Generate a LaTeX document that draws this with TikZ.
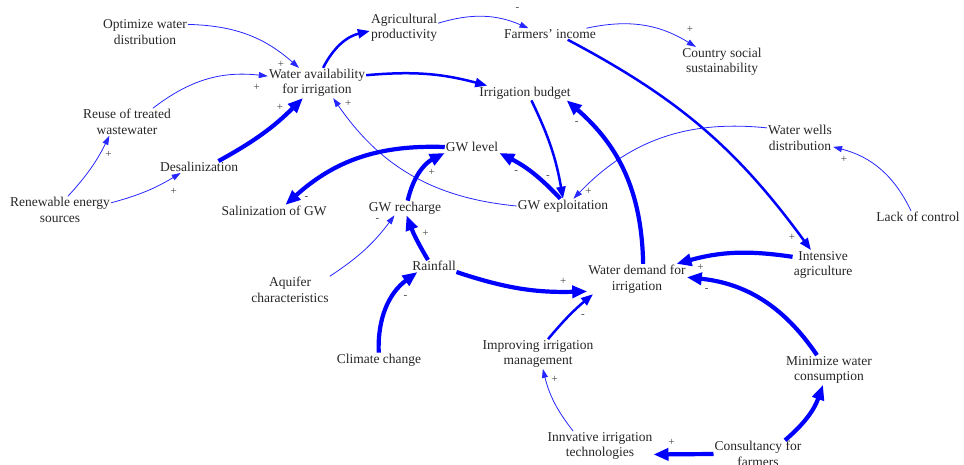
\documentclass[tikz,border=0pt]{standalone}
\usepackage{fontspec}
\setmainfont{Liberation Serif}
\usepackage{tikz}
\usetikzlibrary{arrows.meta}

\begin{document}
\begin{tikzpicture}[x=1pt,y=1pt,
    var/.style={align=center,inner sep=1pt,text=black!85,font=\fontsize{13.5}{15.5}\selectfont},
    sign/.style={pos=1,inner sep=0pt,text=black!75,font=\fontsize{11}{11}\selectfont},
    thin link/.style={draw=blue!85!white,line width=0.8pt,-{Triangle[length=9pt,width=6pt]}},
    mid link/.style={draw=blue,line width=2.5pt,-{Triangle[length=12pt,width=9pt]}},
    thick link/.style={draw=blue,line width=4.2pt,-{Triangle[length=15pt,width=12pt]}}]

  \useasboundingbox (0,0) rectangle (964,-465);

  \node[var] (opt) at (145,-32) {Optimize water\\distribution};
  \node[var] (wa) at (317,-83) {Water availability\\for irrigation};
  \node[var] (agri) at (404,-28) {Agricultural\\productivity};
  \node[var] (inc) at (550,-34) {Farmers' income};
  \node[var] (soc) at (722,-62) {Country social\\sustainability};
  \node[var] (reuse) at (127,-122) {Reuse of treated\\wastewater};
  \node[var] (bud) at (525,-93) {Irrigation budget};
  \node[var] (desal) at (199,-167) {Desalinization};
  \node[var] (wells) at (800,-138) {Water wells\\distribution};
  \node[var] (ren) at (60,-210) {Renewable energy\\sources};
  \node[var] (sal) at (274,-211) {Salinization of GW};
  \node[var] (gwl) at (472,-147) {GW level};
  \node[var] (rech) at (405,-208) {GW recharge};
  \node[var] (expl) at (563,-206) {GW exploitation};
  \node[var] (lack) at (918,-217) {Lack of control};
  \node[var] (intens) at (823,-265) {Intensive\\agriculture};
  \node[var] (aqf) at (290,-290) {Aquifer\\characteristics};
  \node[var] (rain) at (434,-266) {Rainfall};
  \node[var] (dem) at (637,-279) {Water demand for\\irrigation};
  \node[var] (clim) at (379,-360) {Climate change};
  \node[var] (impr) at (538,-354) {Improving irrigation\\management};
  \node[var] (min) at (829,-370) {Minimize water\\consumption};
  \node[var] (innov) at (600,-446) {Innvative irrigation\\technologies};
  \node[var] (cons) at (758,-454) {Consultancy for\\farmers};

  \path
        (opt.10) edge[thin link,bend left=20] node[sign,shift={(-18,4)}] {+} (wa.140)
        (reuse.28) edge[thin link,bend left=22] node[sign,shift={(-11,-11)}] {+} (wa.172)
        (desal.17) edge[thick link,bend right=8] node[sign,shift={(-23,-9)}] {+} (wa.-133)
        (ren.60) edge[thin link,bend right=8] node[sign,shift={(-1,-19)}] {+} (reuse.-142)
        (ren.8) edge[thin link,bend right=8] node[sign,shift={(-7,-18)}] {+} (desal.-162)
        (wa.68) edge[mid link,bend left=25] (agri.185)
        (wa.9) edge[mid link,bend left=10] (bud.169)
        (agri.8) edge[thin link,bend left=20] node[sign,shift={(-11,19)}] {-} (inc.165)
        (inc.9) edge[thin link,bend left=22] node[sign,shift={(-6,18)}] {+} (soc.150)
        (inc.-18) edge[mid link,bend left=13] node[sign,shift={(-19,13)}] {+} (intens.129)
        (bud.-49) edge[mid link,bend left=8] node[sign,shift={(-15,22)}] {-} (expl.90)
        (expl.180) edge[thin link,bend left=25] node[sign,shift={(15,-5)}] {+} (wa.-43)
        (expl.110) edge[thick link,bend right=10] node[sign,shift={(17,-19)}] {-} (gwl.south east)
        (gwl.180) edge[thick link,bend right=22] node[sign,shift={(21,7)}] {-} (sal.28)
        (rech.70) edge[thick link,bend left=25] node[sign,shift={(-13,-19)}] {+} (gwl.south west)
        (wells.163) edge[thin link,bend right=26] node[sign,shift={(15,7)}] {+} (expl.35)
        (lack.139) edge[thin link,bend right=25] node[sign,shift={(11,-13)}] {+} (wells.-15)
        (dem.68) edge[thick link,bend right=24] node[sign,shift={(10,-23)}] {-} (bud.-10)
        (intens.165) edge[thick link,bend right=12] node[sign,shift={(24,-4)}] {+} (dem.21)
        (min.129) edge[thick link,bend right=25] node[sign,shift={(20,-13)}] {-} (dem.2)
        (rain.135) edge[thick link,bend left=5] node[sign,shift={(19,-18)}] {+} (rech.-78)
        (aqf.north east) edge[thin link,bend right=10] node[sign,shift={(-17,-5)}] {-} (rech.-145)
        (rain.-15) edge[thick link,bend right=10] node[sign,shift={(-24,10)}] {+} (dem.-166)
        (clim.92) edge[thick link,bend left=28] node[sign,shift={(-12,-25)}] {-} (rain.-160)
        (impr.56) edge[mid link,bend left=5] node[sign,shift={(-10,-22)}] {-} (dem.-161)
        (innov.151) edge[thin link,bend left=12] node[sign,shift={(12,-11)}] {+} (impr.-72)
        (cons.180) edge[thick link] node[sign,shift={(18,12)}] {+} (innov.-9)
        (cons.27) edge[thick link,bend right=15] (min.-112);

\end{tikzpicture}
\end{document}
